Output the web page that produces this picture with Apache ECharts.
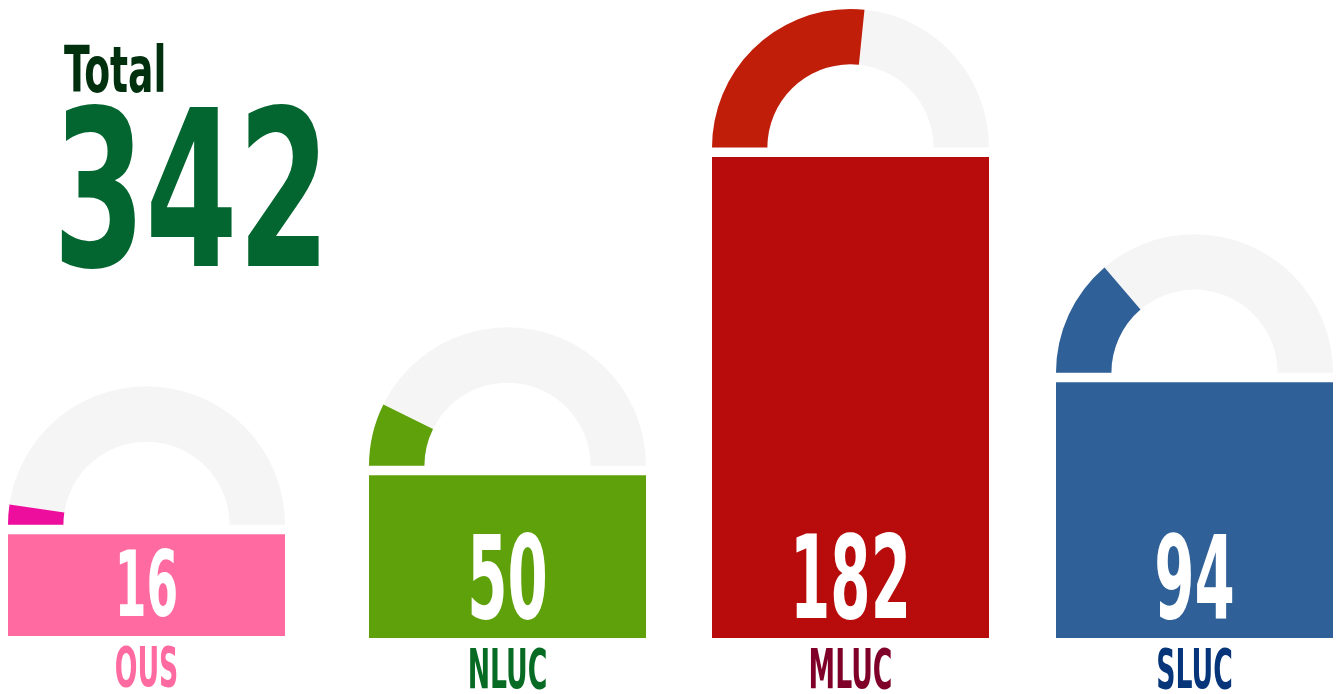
<!DOCTYPE html>
<html>
<head>
<meta charset="utf-8">
<script src="https://cdn.jsdelivr.net/npm/echarts@6/dist/echarts.min.js"></script>
<style>
html,body{margin:0;padding:0;background:#fff;}
#chart{width:1337px;height:694px;}
</style>
</head>
<body>
<div id="chart"></div>
<script>
// ---- data ----
const categories = ['OUS', 'NLUC', 'MLUC', 'SLUC'];
const seatValues = [16, 50, 182, 94];
// bar height, as a percentage of the plot height
const barLevels = [16.0, 25.5, 75.4, 40.1];
const totalLabel = 'Total';
const totalValue = 342;

// ---- styles ----
const barColors   = ['#FF6BA0', '#5FA10B', '#B80C0C', '#2F6098'];
const gaugeColors = ['#EE0E9E', '#5FA10B', '#C01E08', '#2F6098'];
const nameColors  = ['#FF6BA0', '#076B24', '#7F0028', '#06357A'];
const FONT = '"DejaVu Sans Condensed","DejaVu Sans",sans-serif';
const CAP = 0.729;   // cap height / em
const MID = 0.107;   // 'middle' anchor offset below cap centre / em

const chart = echarts.init(document.getElementById('chart'), null, {renderer: 'canvas'});

const gridLefts = [8, 369, 712, 1056];
const gridBottoms = [58, 56, 56, 56];

const grids = [], xAxes = [], yAxes = [], series = [];
categories.forEach((c, i) => {
  grids.push({left: gridLefts[i], width: 277, top: 0, bottom: gridBottoms[i], containLabel: false});
  xAxes.push({type: 'category', gridIndex: i, data: [c], show: false});
  yAxes.push({type: 'value', gridIndex: i, min: 0, max: 100, show: false});
  series.push({
    type: 'custom',
    xAxisIndex: i, yAxisIndex: i,
    clip: false,
    encode: {x: 0, y: 1},
    data: [[c, barLevels[i], seatValues[i]]],
    renderItem: function (params, api) {
      const top = api.coord([api.value(0), api.value(1)]);
      const bottom = api.coord([api.value(0), 0]);
      const w = api.size([1, 0])[0];
      const cx = top[0];
      const barH = bottom[1] - top[1];
      const r = w / 2;
      const r0 = r * 0.6;
      const gcy = top[1] - 9.5;
      const frac = seatValues[i] / totalValue;
      const valFont = Math.min(115, barH * 0.89);
      const capH = valFont * CAP;
      const nameFont = 55;
      return {
        type: 'group',
        children: [
          {type: 'rect', shape: {x: cx - w / 2, y: top[1], width: w, height: barH},
           style: {fill: barColors[i]}},
          {type: 'sector', shape: {cx: cx, cy: gcy, r: r, r0: r0, startAngle: Math.PI, endAngle: 2 * Math.PI, clockwise: true},
           style: {fill: '#F5F5F5'}},
          {type: 'sector', shape: {cx: cx, cy: gcy, r: r, r0: r0, startAngle: Math.PI, endAngle: Math.PI + frac * Math.PI, clockwise: true},
           style: {fill: gaugeColors[i]}},
          {type: 'text', x: cx, y: bottom[1] - 20 - capH / 2 + MID * valFont, scaleX: 0.56,
           style: {text: String(api.value(2)), fill: '#FFFFFF', font: 'bold ' + valFont + 'px ' + FONT,
                   align: 'center', verticalAlign: 'middle'}},
          {type: 'text', x: cx, y: bottom[1] + 30 + MID * nameFont, scaleX: 0.54,
           style: {text: categories[i], fill: nameColors[i], font: 'bold ' + nameFont + 'px ' + FONT,
                   align: 'center', verticalAlign: 'middle'}}
        ]
      };
    }
  });
});

chart.setOption({
  backgroundColor: '#FFFFFF',
  animation: false,
  grid: grids,
  xAxis: xAxes,
  yAxis: yAxes,
  series: series,
  graphic: [
    {type: 'text', x: 64, y: 68.5 + MID * 64.5, scaleX: 0.65,
     style: {text: totalLabel, fill: '#00300E', font: 'bold 64.5px ' + FONT, align: 'left', verticalAlign: 'middle'}},
    {type: 'text', x: 53, y: 186.5 + MID * 217, scaleX: 0.68,
     style: {text: String(totalValue), fill: '#03652F', font: 'bold 217px ' + FONT, align: 'left', verticalAlign: 'middle'}}
  ]
});
</script>
</body>
</html>
